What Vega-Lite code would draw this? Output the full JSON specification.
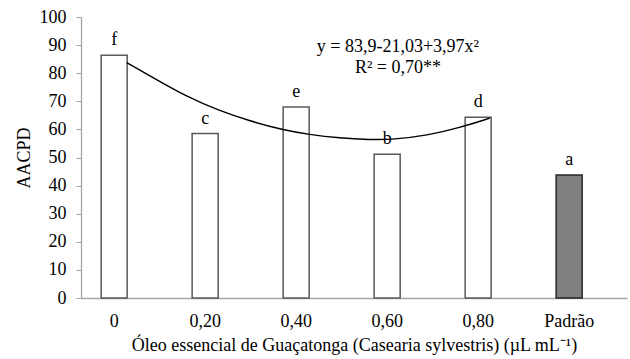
{
  "$schema": "https://vega.github.io/schema/vega-lite/v6.json",
  "width": 546,
  "height": 281,
  "autosize": {"type": "none"},
  "padding": {"left": 81, "top": 17, "right": 3, "bottom": 61},
  "background": "white",
  "config": {
    "view": {"stroke": null},
    "font": "'Liberation Serif', 'Times New Roman', serif",
    "text": {"font": "'Liberation Serif', 'Times New Roman', serif"},
    "axis": {"labelFont": "'Liberation Serif', 'Times New Roman', serif", "titleFont": "'Liberation Serif', 'Times New Roman', serif", "labelColor": "black", "titleColor": "black", "titleFontWeight": "normal", "grid": false, "labelOverlap": false}
  },
  "datasets": {
    "bars": [
      {"dose": "0", "aacpd": 86.4, "letra": "f", "grupo": "oleo"},
      {"dose": "0,20", "aacpd": 58.5, "letra": "c", "grupo": "oleo"},
      {"dose": "0,40", "aacpd": 68.0, "letra": "e", "grupo": "oleo"},
      {"dose": "0,60", "aacpd": 51.2, "letra": "b", "grupo": "oleo"},
      {"dose": "0,80", "aacpd": 64.3, "letra": "d", "grupo": "oleo"},
      {"dose": "Padrão", "aacpd": 43.8, "letra": "a", "grupo": "padrao"}
    ],
    "curve": [
      {"pos": 0.14, "aacpd": 83.8},
      {"pos": 0.43, "aacpd": 78.4},
      {"pos": 0.80, "aacpd": 71.6},
      {"pos": 1.16, "aacpd": 66.6},
      {"pos": 1.49, "aacpd": 63.0},
      {"pos": 1.86, "aacpd": 59.8},
      {"pos": 2.14, "aacpd": 58.2},
      {"pos": 2.48, "aacpd": 56.9},
      {"pos": 2.81, "aacpd": 56.3},
      {"pos": 3.07, "aacpd": 56.4},
      {"pos": 3.44, "aacpd": 57.8},
      {"pos": 3.80, "aacpd": 60.6},
      {"pos": 4.13, "aacpd": 64.0}
    ]
  },
  "encoding": {
    "y": {
      "field": "aacpd", "type": "quantitative",
      "scale": {"domain": [0, 100], "nice": false},
      "axis": {
        "title": "AACPD", "values": [0,10,20,30,40,50,60,70,80,90,100],
        "labelFontSize": 18, "titleFontSize": 18, "tickSize": 5,
        "tickColor": "#a6a6a6", "domainColor": "#a6a6a6", "domainWidth": 1.3,
        "labelPadding": 10, "titlePadding": 6
      }
    }
  },
  "resolve": {"scale": {"x": "independent"}, "axis": {"x": "independent"}},
  "layer": [
    {
      "data": {"name": "bars"},
      "encoding": {
        "x": {
          "field": "dose", "type": "nominal", "sort": null,
          "scale": {"paddingInner": 0.714, "paddingOuter": 0.357, "align": 0.31},
          "axis": {
            "title": "Óleo essencial de Guaçatonga (Casearia sylvestris) (µL mL⁻¹)",
            "labelAngle": 0, "labelFontSize": 18, "titleFontSize": 18,
            "ticks": false, "labelPadding": 14, "titlePadding": 6,
            "domainColor": "#a6a6a6", "domainWidth": 1.3
          }
        }
      },
      "layer": [
        {
          "mark": {"type": "bar", "strokeWidth": 1.5},
          "encoding": {
            "fill": {"field": "grupo", "type": "nominal", "scale": {"domain": ["oleo", "padrao"], "range": ["white", "#7f7f7f"]}, "legend": null},
            "stroke": {"field": "grupo", "type": "nominal", "scale": {"domain": ["oleo", "padrao"], "range": ["#595959", "#262626"]}, "legend": null}
          }
        },
        {
          "mark": {"type": "text", "fontSize": 18, "baseline": "alphabetic", "dy": -10, "color": "black"},
          "encoding": {"text": {"field": "letra"}}
        }
      ]
    },
    {
      "data": {"name": "curve"},
      "mark": {"type": "line", "color": "black", "strokeWidth": 1.4, "interpolate": "basis"},
      "encoding": {
        "x": {"field": "pos", "type": "quantitative", "scale": {"domain": [-0.3626, 5.6374], "nice": false, "zero": false}, "axis": null}
      }
    },
    {
      "data": {"values": [{"aacpd": 89.5}]},
      "mark": {"type": "text", "fontSize": 18, "align": "center", "baseline": "middle", "lineHeight": 21, "color": "black",
        "text": ["y = 83,9-21,03+3,97x²", "R² = 0,70**"]},
      "encoding": {
        "x": {"datum": 3.12, "type": "quantitative", "scale": {"domain": [-0.3626, 5.6374], "nice": false, "zero": false}, "axis": null}
      }
    }
  ]
}
